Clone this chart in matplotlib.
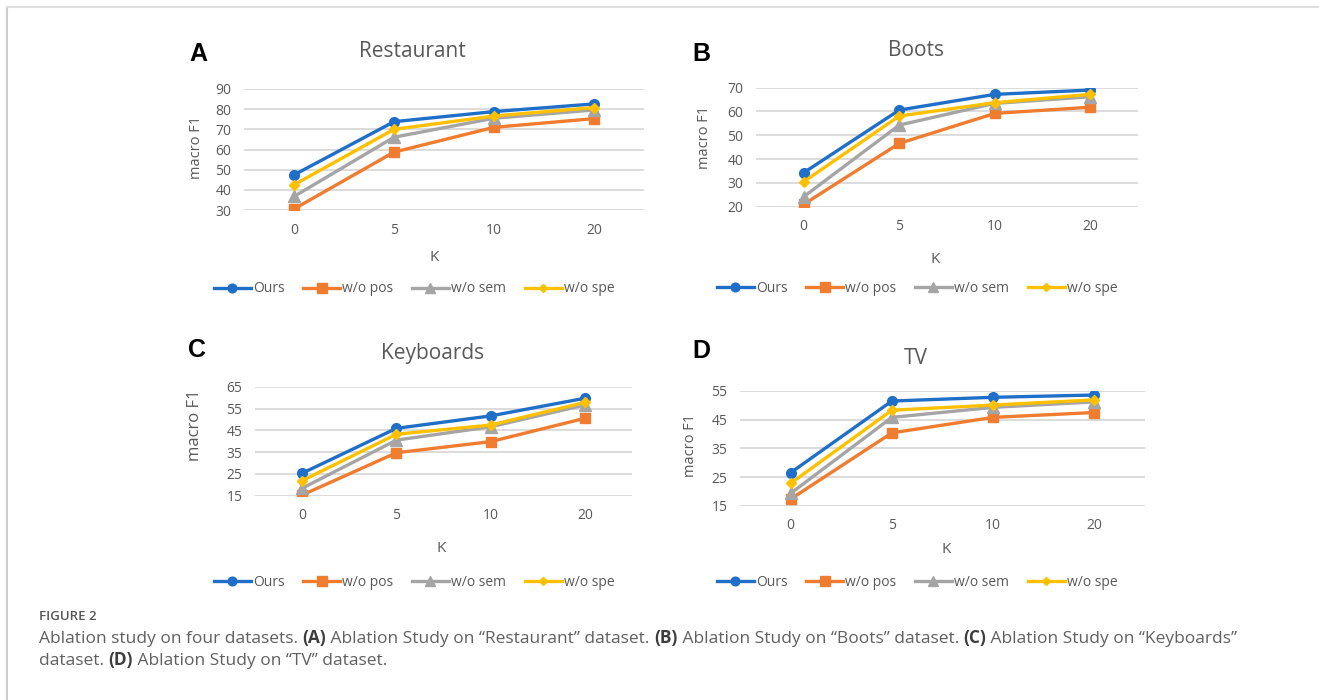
import numpy as np
import matplotlib
matplotlib.use("Agg")
import matplotlib.pyplot as plt
from matplotlib.lines import Line2D

# data
k_labels = ["0", "5", "10", "20"]
series_names = ["Ours", "w/o pos", "w/o sem", "w/o spe"]

restaurant_ours = [47.4, 73.8, 78.8, 82.6]
restaurant_pos = [30.5, 58.7, 71.0, 75.3]
restaurant_sem = [36.7, 66.1, 75.5, 79.6]
restaurant_spe = [42.5, 70.0, 76.6, 80.8]

boots_ours = [34.3, 60.6, 67.2, 69.0]
boots_pos = [21.0, 46.6, 59.2, 61.8]
boots_sem = [24.2, 54.3, 63.4, 66.2]
boots_spe = [30.5, 58.1, 63.7, 67.2]

keyboards_ours = [25.3, 45.9, 51.6, 59.7]
keyboards_pos = [15.3, 34.7, 39.8, 50.5]
keyboards_sem = [18.4, 40.5, 46.6, 56.6]
keyboards_spe = [21.9, 43.2, 47.4, 57.8]

tv_ours = [26.5, 51.5, 52.8, 53.6]
tv_pos = [17.3, 40.4, 45.8, 47.5]
tv_sem = [19.3, 45.8, 49.3, 51.2]
tv_spe = [22.8, 48.3, 50.1, 51.9]

colors = ["#1F6FC8", "#F07C30", "#A5A5A5", "#FFC000"]
markers = ["o", "s", "^", "D"]
msizes = [7, 7.5, 8, 5]

W, H = 1319, 700
fig = plt.figure(figsize=(W / 100, H / 100), dpi=100)
plt.rcParams['font.family'] = ['Open Sans', 'DejaVu Sans']

def fx(x):
    return x / W

def fy(y):
    return 1 - y / H

# frame of the figure page
fig.add_artist(Line2D([fx(7), fx(7)], [fy(7), 0], color="#cccccc", lw=1.5))
fig.add_artist(Line2D([fx(7), 1], [fy(7), fy(7)], color="#dddddd", lw=1.5))

panels = [
    dict(letter="A", title="Restaurant", data=[restaurant_ours, restaurant_pos, restaurant_sem, restaurant_spe],
         ylim=(30, 90), box=(244, 644, 89, 210),
         letter_xy=(198, 54), title_xy=(412, 56.7), ylab=(196, 147.5, 10.5), k_xy=(434, 260.7), leg_xy=(414, 289)),
    dict(letter="B", title="Boots", data=[boots_ours, boots_pos, boots_sem, boots_spe],
         ylim=(20, 70), box=(756, 1138, 87.7, 206.7),
         letter_xy=(701, 54), title_xy=(916, 56), ylab=(704, 137.5, 10.5), k_xy=(935, 262.7), leg_xy=(917, 288)),
    dict(letter="C", title="Keyboards", data=[keyboards_ours, keyboards_pos, keyboards_sem, keyboards_spe],
         ylim=(15, 65), box=(255, 632, 386.7, 495.7),
         letter_xy=(197, 350), title_xy=(432.5, 359.3), ylab=(195, 425, 12), k_xy=(441, 551.7), leg_xy=(414, 582)),
    dict(letter="D", title="TV", data=[tv_ours, tv_pos, tv_sem, tv_spe],
         ylim=(15, 55), box=(740, 1145, 391, 505.7),
         letter_xy=(701, 351), title_xy=(915.5, 364), ylab=(690, 445.8, 10.5), k_xy=(946, 552.7), leg_xy=(917, 582)),
]

tick_col = "#595959"
for p in panels:
    x0, x1, yt, yb = p["box"]
    ax = fig.add_axes([fx(x0), fy(yb), (x1 - x0) / W, (yb - yt) / H])
    xs = np.arange(len(k_labels))
    handles = []
    for vals, name, c, m, ms in zip(p["data"], series_names, colors, markers, msizes):
        h, = ax.plot(xs, vals, color=c, marker=m, markersize=ms, lw=2.4, label=name, zorder=3)
        handles.append(h)
    ax.set_xlim(-0.5, len(k_labels) - 0.5)
    ax.set_ylim(*p["ylim"])
    ax.set_yticks(np.arange(p["ylim"][0], p["ylim"][1] + 1, 10))
    ax.set_xticks(xs)
    ax.set_xticklabels(k_labels)
    ax.grid(axis="y", color="#d9d9d9", lw=1.3)
    ax.set_axisbelow(True)
    for s in ax.spines.values():
        s.set_visible(False)
    ax.tick_params(axis="both", length=0, labelsize=10, labelcolor=tick_col)
    ax.tick_params(axis="x", pad=9)
    ax.tick_params(axis="y", pad=9)

    fig.text(fx(p["letter_xy"][0]), fy(p["letter_xy"][1]), p["letter"], fontsize=18, fontweight="bold",
             family=["Liberation Sans"], ha="center", va="center", color="black")
    fig.text(fx(p["title_xy"][0]), fy(p["title_xy"][1]), p["title"], fontsize=15, color=tick_col,
             ha="center", va="baseline")
    lx, ly, lsize = p["ylab"]
    fig.text(fx(lx), fy(ly), "macro F1", fontsize=lsize, color=tick_col,
             rotation=90, ha="center", va="center")
    fig.text(fx(p["k_xy"][0]), fy(p["k_xy"][1]), "K", fontsize=11, color=tick_col, ha="center", va="baseline")
    fig.legend(handles=handles, loc="center", bbox_to_anchor=(fx(p["leg_xy"][0]), fy(p["leg_xy"][1])),
               ncol=4, frameon=False, fontsize=10, handlelength=2.66, handletextpad=0.15,
               columnspacing=1.35, labelcolor=tick_col, borderaxespad=0, borderpad=0, markerscale=0.9)

# caption with bold pieces
cap_col = "#606060"
fig.text(fx(39), fy(620), "FIGURE 2", fontsize=9.5, color="#555555", fontweight="semibold", va="baseline")

line1 = [("Ablation study on four datasets. ", "normal"), ("(A)", "bold"),
         (" Ablation Study on \u201cRestaurant\u201d dataset. ", "normal"), ("(B)", "bold"),
         (" Ablation Study on \u201cBoots\u201d dataset. ", "normal"), ("(C)", "bold"),
         (" Ablation Study on \u201cKeyboards\u201d", "normal")]
line2 = [("dataset. ", "normal"), ("(D)", "bold"), (" Ablation Study on \u201cTV\u201d dataset.", "normal")]

renderer = fig.canvas.get_renderer()

def draw_pieces(pieces, x, y):
    xpos = fx(x)
    for txt, wt in pieces:
        t = fig.text(xpos, fy(y), txt, fontsize=12.5, color=cap_col if wt == "normal" else "#3d3d3d",
                     fontweight=wt, va="baseline", ha="left")
        bb = t.get_window_extent(renderer=renderer)
        xpos += bb.width / W

draw_pieces(line1, 39, 643)
draw_pieces(line2, 39, 665)

fig.savefig("out.png", dpi=100)
